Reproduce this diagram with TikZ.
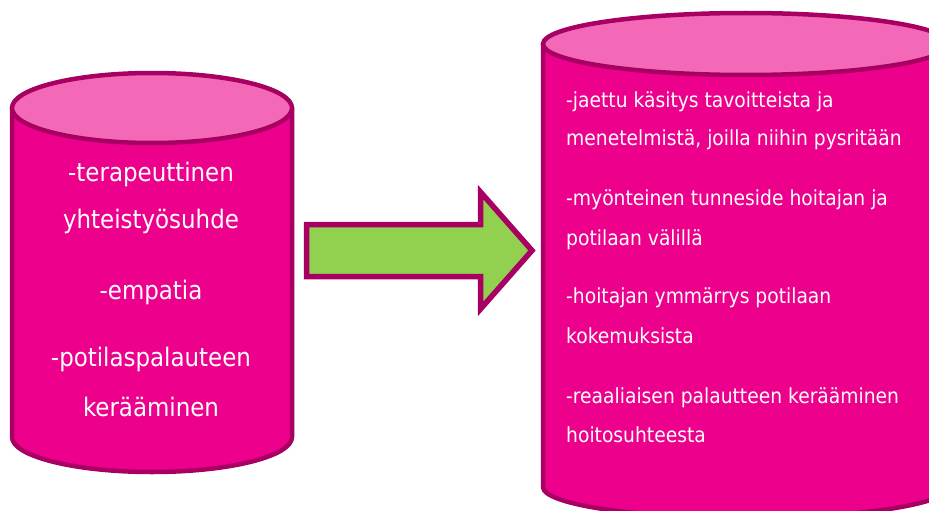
\documentclass[tikz,border=0pt]{standalone}
\usepackage{fontspec}
\setmainfont{DejaVu Sans Condensed}
\usepackage{tikz}
\usetikzlibrary{positioning}
\definecolor{cylbody}{RGB}{236,0,140}
\definecolor{cyltop}{RGB}{244,104,184}
\definecolor{cylline}{RGB}{168,0,98}
\definecolor{arrowfill}{RGB}{146,208,80}
\tikzset{
  body/.style={fill=cylbody,draw=cylline,line width=4.5pt,line join=round},
  lid/.style={fill=cyltop,draw=cylline,line width=4.5pt},
  bigarrow/.style={fill=arrowfill,draw=cylline,line width=5.5pt,line join=miter},
  lefttxt/.style={text=white,font=\fontsize{25.5}{30}\selectfont,inner sep=0pt,anchor=center},
  righttxt/.style={text=white,font=\fontsize{20.8}{25}\selectfont,inner sep=0pt,anchor=west},
}

\begin{document}
\begin{tikzpicture}[x=1pt,y=-1pt]
  \useasboundingbox (0,0) rectangle (929,511);
  \clip (0,0) rectangle (929,511);
  % left cylinder
  \draw[body] (12,108) -- (12,437) arc[start angle=180,end angle=0,x radius=140,y radius=35] -- (292,108) -- cycle;
  \draw[lid] (152,108) ellipse [x radius=140,y radius=35];
  % right cylinder
  \draw[body] (543,44) -- (543,487) arc[start angle=180,end angle=0,x radius=203,y radius=31] -- (949,44) -- cycle;
  \draw[lid] (746,44) ellipse [x radius=203,y radius=31];
  % arrow
  \draw[bigarrow] (306.5,224.5) -- (480.5,224.5) -- (480.5,192) -- (532,250.5)
    -- (480.5,309) -- (480.5,276.5) -- (306.5,276.5) -- cycle;
  % left texts
  \foreach \y/\t [count=\i] in {175/-terapeuttinen,222/yhteistyösuhde,293/-empatia,
                                360/-potilaspalauteen,410/kerääminen}{
    \node[lefttxt] (left\i) at (151,\y) {\strut\t};
  }
  % right texts
  \foreach \y/\t [count=\i] in {102/-jaettu käsitys tavoitteista ja,
                                140/{menetelmistä, joilla niihin pysritään},
                                200/-myönteinen tunneside hoitajan ja,
                                240/potilaan välillä,
                                298/-hoitajan ymmärrys potilaan,
                                338/kokemuksista,
                                398/-reaaliaisen palautteen kerääminen,
                                437/hoitosuhteesta}{
    \node[righttxt] (right\i) at (566,\y) {\strut\t};
  }
\end{tikzpicture}
\end{document}
